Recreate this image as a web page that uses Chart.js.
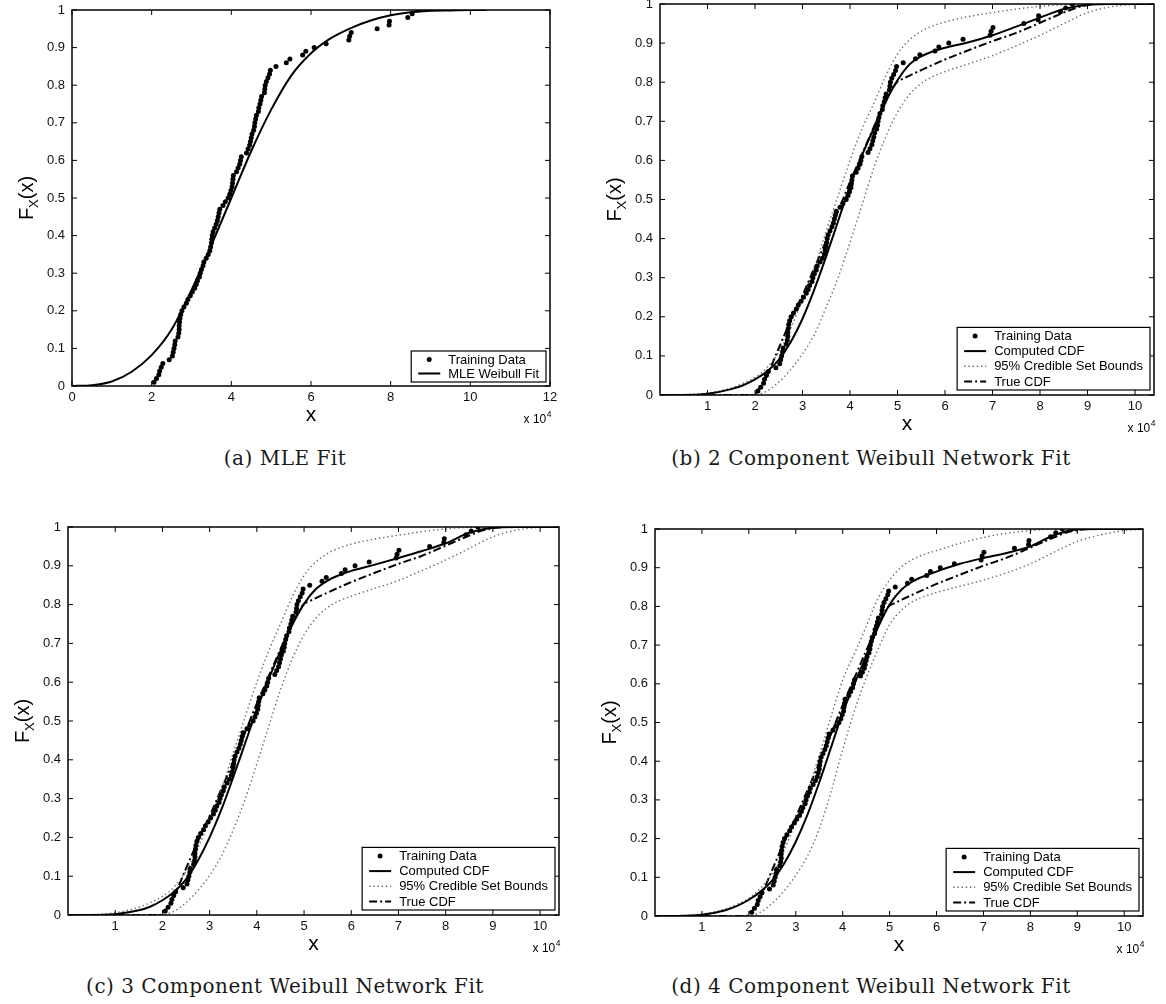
<!DOCTYPE html>
<html>
<head>
<meta charset="utf-8">
<title>Weibull network CDF fits</title>
<script src="https://cdn.jsdelivr.net/npm/chart.js@4.4.1/dist/chart.umd.min.js"></script>
<style>
  body { margin: 0; background: #fff; width: 1166px; height: 1004px; position: relative; overflow: hidden; }
  canvas { position: absolute; }
  .caption {
    position: absolute; transform: translate(-50%, -50%); white-space: nowrap;
    font-family: "DejaVu Serif", serif; font-size: 20px; letter-spacing: 0.5px; color: #1a1a1a;
  }
</style>
</head>
<body>
<canvas id="panelA" width="583" height="440" style="left:0px;top:0px"></canvas>
<canvas id="panelB" width="583" height="440" style="left:583px;top:0px"></canvas>
<canvas id="panelC" width="583" height="480" style="left:0px;top:480px"></canvas>
<canvas id="panelD" width="583" height="480" style="left:583px;top:480px"></canvas>
<div class="caption" style="left:285px;top:458px">(a) MLE Fit</div>
<div class="caption" style="left:871px;top:458px">(b) 2 Component Weibull Network Fit</div>
<div class="caption" style="left:285px;top:986px">(c) 3 Component Weibull Network Fit</div>
<div class="caption" style="left:871px;top:986px">(d) 4 Component Weibull Network Fit</div>

<script>
// training sample, x in units of 1e4
const trainX = [
  2.06, 2.12, 2.18, 2.20, 2.24, 2.28, 2.44, 2.52, 2.54, 2.56,
  2.58, 2.59, 2.66, 2.68, 2.69, 2.69, 2.70, 2.71, 2.73, 2.76,
  2.81, 2.87, 2.91, 2.97, 3.02, 3.08, 3.12, 3.15, 3.20, 3.22,
  3.25, 3.29, 3.31, 3.37, 3.42, 3.46, 3.48, 3.50, 3.51, 3.52,
  3.54, 3.58, 3.62, 3.65, 3.67, 3.69, 3.71, 3.79, 3.85, 3.92,
  3.96, 3.99, 4.02, 4.03, 4.04, 4.05, 4.13, 4.17, 4.21, 4.23,
  4.25, 4.38, 4.42, 4.46, 4.48, 4.50, 4.52, 4.56, 4.58, 4.59,
  4.61, 4.63, 4.68, 4.69, 4.72, 4.74, 4.76, 4.83, 4.84, 4.85,
  4.88, 4.92, 4.96, 4.98, 5.12, 5.38, 5.47, 5.79, 5.87, 6.08,
  6.38, 6.95, 6.97, 7.01, 7.66, 7.96, 7.97, 8.43, 8.54, 8.68
];
const trainF = [
  0.01, 0.02, 0.03, 0.04, 0.05, 0.06, 0.07, 0.08, 0.09, 0.10,
  0.11, 0.12, 0.13, 0.14, 0.15, 0.16, 0.17, 0.18, 0.19, 0.20,
  0.21, 0.22, 0.23, 0.24, 0.25, 0.26, 0.27, 0.28, 0.29, 0.30,
  0.31, 0.32, 0.33, 0.34, 0.35, 0.36, 0.37, 0.38, 0.39, 0.40,
  0.41, 0.42, 0.43, 0.44, 0.45, 0.46, 0.47, 0.48, 0.49, 0.50,
  0.51, 0.52, 0.53, 0.54, 0.55, 0.56, 0.57, 0.58, 0.59, 0.60,
  0.61, 0.62, 0.63, 0.64, 0.65, 0.66, 0.67, 0.68, 0.69, 0.70,
  0.71, 0.72, 0.73, 0.74, 0.75, 0.76, 0.77, 0.78, 0.79, 0.80,
  0.81, 0.82, 0.83, 0.84, 0.85, 0.86, 0.87, 0.88, 0.89, 0.90,
  0.91, 0.92, 0.93, 0.94, 0.95, 0.96, 0.97, 0.98, 0.99, 1.00
];

// MLE Weibull fit
const mleX = [0, 0.5, 1, 1.5, 2, 2.5, 3, 3.5, 4, 4.5, 5, 5.5, 6, 6.5, 7, 7.5, 8, 8.5, 9, 9.5, 10, 10.4];
const mleF = [0, 0.002, 0.012, 0.038, 0.082, 0.15, 0.255, 0.375, 0.5, 0.625, 0.735, 0.825, 0.885, 0.925,
              0.952, 0.972, 0.986, 0.994, 0.998, 0.999, 1, 1];

// x grid for the network curves
const netX = [0, 0.5, 1, 1.5, 1.75, 2, 2.25, 2.5, 2.75, 3, 3.25, 3.5, 3.75, 4, 4.25, 4.5, 4.75,
              5, 5.25, 5.5, 5.75, 6, 6.5, 7, 7.5, 8, 8.5, 9, 9.5, 10, 10.4];

const computedB = [0, 0, 0.003, 0.015, 0.025, 0.04, 0.06, 0.09, 0.135, 0.195, 0.27, 0.355, 0.445, 0.535, 0.612, 0.682, 0.75,
                   0.805, 0.845, 0.866, 0.879, 0.888, 0.902, 0.92, 0.942, 0.965, 0.987, 0.998, 1, 1, 1];
const upperB    = [0, 0.001, 0.005, 0.018, 0.03, 0.045, 0.07, 0.11, 0.17, 0.245, 0.325, 0.42, 0.51, 0.6, 0.68, 0.745, 0.815,
                   0.872, 0.908, 0.93, 0.944, 0.954, 0.968, 0.978, 0.987, 0.994, 0.998, 1, 1, 1, 1];
const lowerB    = [0, 0, 0, 0, 0, 0.001, 0.01, 0.033, 0.065, 0.105, 0.155, 0.225, 0.3, 0.39, 0.485, 0.58, 0.66,
                   0.723, 0.768, 0.797, 0.815, 0.827, 0.847, 0.868, 0.893, 0.92, 0.95, 0.978, 0.993, 0.999, 1];

const computedC = [0, 0, 0.002, 0.012, 0.022, 0.038, 0.06, 0.092, 0.14, 0.2, 0.272, 0.355, 0.442, 0.53, 0.608, 0.68, 0.748,
                   0.802, 0.84, 0.862, 0.876, 0.887, 0.903, 0.92, 0.938, 0.958, 0.985, 0.998, 1, 1, 1];
const upperC    = [0, 0.001, 0.006, 0.02, 0.032, 0.048, 0.073, 0.113, 0.172, 0.245, 0.325, 0.418, 0.51, 0.6, 0.68, 0.75, 0.82,
                   0.875, 0.91, 0.932, 0.946, 0.956, 0.969, 0.979, 0.988, 0.995, 0.999, 1, 1, 1, 1];
const lowerC    = [0, 0, 0, 0, 0, 0.001, 0.01, 0.032, 0.063, 0.102, 0.152, 0.22, 0.298, 0.39, 0.485, 0.58, 0.66,
                   0.722, 0.765, 0.793, 0.81, 0.822, 0.842, 0.862, 0.888, 0.915, 0.945, 0.975, 0.992, 0.999, 1];

const computedD = [0, 0, 0.003, 0.015, 0.026, 0.042, 0.063, 0.092, 0.135, 0.192, 0.262, 0.345, 0.435, 0.525, 0.6, 0.672, 0.745,
                   0.805, 0.843, 0.865, 0.879, 0.89, 0.91, 0.925, 0.938, 0.955, 0.984, 0.999, 1, 1, 1];
const upperD    = [0, 0.001, 0.005, 0.018, 0.03, 0.046, 0.072, 0.11, 0.17, 0.243, 0.322, 0.415, 0.515, 0.61, 0.678, 0.748, 0.82,
                   0.868, 0.902, 0.922, 0.935, 0.944, 0.963, 0.978, 0.989, 0.996, 1, 1, 1, 1, 1];
const lowerD    = [0, 0, 0, 0, 0, 0.001, 0.01, 0.033, 0.065, 0.105, 0.155, 0.225, 0.32, 0.43, 0.53, 0.615, 0.688,
                   0.753, 0.79, 0.813, 0.826, 0.836, 0.852, 0.868, 0.887, 0.91, 0.94, 0.968, 0.985, 0.996, 0.999];

// true CDF of the generating mixture
const trueX = [0, 1.9, 2.0, 2.25, 2.5, 2.75, 3.0, 3.25, 3.5, 3.75, 4.0, 4.25, 4.5, 4.75, 4.9, 5.0, 5.1,
               5.5, 6.0, 6.5, 7.0, 7.5, 8.0, 8.5, 8.75, 9.0, 9.25, 10.4];
const trueF = [0, 0, 0.003, 0.05, 0.12, 0.19, 0.255, 0.325, 0.395, 0.47, 0.545, 0.615, 0.685, 0.75, 0.785, 0.802, 0.808,
               0.831, 0.858, 0.882, 0.905, 0.926, 0.952, 0.978, 0.99, 0.997, 1, 1];

const yTicks = [0, 0.1, 0.2, 0.3, 0.4, 0.5, 0.6, 0.7, 0.8, 0.9, 1];
const yTickLabels = ['0', '0.1', '0.2', '0.3', '0.4', '0.5', '0.6', '0.7', '0.8', '0.9', '1'];
const xTicksMle = [0, 2, 4, 6, 8, 10, 12];
const xTicksNet = [1, 2, 3, 4, 5, 6, 7, 8, 9, 10];

const FONT = '"Liberation Sans", Arial, Helvetica, sans-serif';

function pts(xs, ys) {
  return xs.map((x, i) => ({ x: x, y: ys[i] }));
}

function dataSet() {
  return { label: 'Training Data', data: pts(trainX, trainF), showLine: false,
           pointRadius: 2.5, pointBackgroundColor: '#000', pointBorderWidth: 0 };
}
function curve(label, xs, ys, style) {
  return Object.assign({ label: label, data: pts(xs, ys), showLine: true, pointRadius: 0,
                         borderColor: '#000', borderWidth: 2, cubicInterpolationMode: 'monotone' }, style);
}
const dotted = { borderColor: '#6a6a6a', borderWidth: 1.4, borderDash: [1.4, 2.8] };
const dashDot = { borderWidth: 2, borderDash: [8, 3, 2, 3] };

function networkSets(comp, up, low) {
  return [
    dataSet(),
    curve('Computed CDF', netX, comp, {}),
    curve('95% Credible Set Bounds', netX, up, dotted),
    curve('95% Credible Set Bounds', netX, low, Object.assign({ noLegend: true }, dotted)),
    curve('True CDF', trueX, trueF, dashDot)
  ];
}

// box, inward ticks, legend and axis titles in the MATLAB figure style
const matlabAxes = {
  id: 'matlabAxes',
  afterDraw(chart, args, opts) {
    const ctx = chart.ctx;
    const a = chart.chartArea;
    const xs = chart.scales.x, ys = chart.scales.y;
    ctx.save();

    ctx.strokeStyle = '#000';
    ctx.lineWidth = 1;
    ctx.beginPath();
    xs.ticks.forEach(t => {
      const p = xs.getPixelForValue(t.value);
      ctx.moveTo(p, a.bottom); ctx.lineTo(p, a.bottom - 5);
      ctx.moveTo(p, a.top); ctx.lineTo(p, a.top + 5);
    });
    ys.ticks.forEach(t => {
      const p = ys.getPixelForValue(t.value);
      ctx.moveTo(a.left, p); ctx.lineTo(a.left + 5, p);
      ctx.moveTo(a.right, p); ctx.lineTo(a.right - 5, p);
    });
    ctx.stroke();
    ctx.lineWidth = 1.5;
    ctx.strokeRect(a.left, a.top, a.right - a.left, a.bottom - a.top);

    // legend in the lower right corner
    const entries = chart.data.datasets.filter(d => !d.noLegend);
    ctx.font = '13px ' + FONT;
    const textW = Math.max(...entries.map(d => ctx.measureText(d.label).width));
    const rowH = opts.rowH;
    const boxW = 7 + 22 + 8 + textW + 7;
    const boxH = 17 + (entries.length - 1) * rowH;
    const bx = a.right - 4 - boxW, by = a.bottom - opts.legendGap - boxH;
    ctx.fillStyle = '#fff';
    ctx.fillRect(bx, by, boxW, boxH);
    ctx.lineWidth = 1.2;
    ctx.strokeStyle = '#000';
    ctx.strokeRect(bx, by, boxW, boxH);
    entries.forEach((d, i) => {
      const cy = by + 8.5 + i * rowH;
      const lx = bx + 7;
      if (d.showLine === false) {
        ctx.fillStyle = '#000';
        ctx.beginPath();
        ctx.arc(lx + 11, cy, 2.5, 0, Math.PI * 2);
        ctx.fill();
      } else {
        ctx.save();
        ctx.strokeStyle = d.borderColor;
        ctx.lineWidth = d.borderWidth;
        ctx.setLineDash(d.borderDash || []);
        ctx.beginPath();
        ctx.moveTo(lx, cy); ctx.lineTo(lx + 22, cy);
        ctx.stroke();
        ctx.restore();
      }
      ctx.fillStyle = '#000';
      ctx.textAlign = 'left';
      ctx.textBaseline = 'middle';
      ctx.fillText(d.label, lx + 30, cy + 0.5);
    });

    // x label and exponent
    ctx.fillStyle = '#000';
    ctx.textBaseline = 'alphabetic';
    ctx.textAlign = 'center';
    ctx.font = '21px ' + FONT;
    ctx.fillText('x', (a.left + a.right) / 2, a.bottom + 35);

    ctx.textAlign = 'left';
    ctx.font = '8.5px ' + FONT;
    const supW = ctx.measureText('4').width;
    ctx.font = '12px ' + FONT;
    const baseW = ctx.measureText('x 10').width;
    const ex = a.right + 1 - supW - baseW;
    ctx.fillText('x 10', ex, a.bottom + 37);
    ctx.font = '8.5px ' + FONT;
    ctx.fillText('4', ex + baseW + 0.5, a.bottom + 31);

    // y label F_X(x), rotated
    ctx.translate(a.left - 46, (a.top + a.bottom) / 2);
    ctx.rotate(-Math.PI / 2);
    ctx.font = '20px ' + FONT;
    const wF = ctx.measureText('F').width, wP = ctx.measureText('(x)').width;
    ctx.font = '13px ' + FONT;
    const wX = ctx.measureText('X').width;
    let tx = -(wF + wX + wP) / 2;
    ctx.font = '20px ' + FONT;
    ctx.fillText('F', tx, 7);
    ctx.font = '13px ' + FONT;
    ctx.fillText('X', tx + wF, 12);
    ctx.font = '20px ' + FONT;
    ctx.fillText('(x)', tx + wF + wX, 7);

    ctx.restore();
  }
};

// area: chart box in page pixels [left, top, right, bottom]
function makePanel(id, canvasLeft, canvasTop, area, datasets, xMax, xTicks, rowH, legendGap) {
  const canvas = document.getElementById(id);
  const yWidth = area[0] - canvasLeft;
  const xHeight = 30;
  return new Chart(canvas, {
    type: 'scatter',
    data: { datasets: datasets },
    options: {
      responsive: false,
      animation: false,
      devicePixelRatio: 1,
      events: [],
      layout: {
        padding: {
          left: 0,
          top: area[1] - canvasTop,
          right: canvas.width - (area[2] - canvasLeft),
          bottom: canvas.height - (area[3] - canvasTop) - xHeight
        }
      },
      plugins: {
        legend: { display: false },
        tooltip: { enabled: false },
        matlabAxes: { rowH: rowH, legendGap: legendGap }
      },
      scales: {
        x: {
          type: 'linear', min: 0, max: xMax,
          grid: { display: false, drawTicks: false }, border: { display: false },
          afterBuildTicks: s => { s.ticks = xTicks.map(v => ({ value: v })); },
          afterFit: s => { s.height = xHeight; s.paddingLeft = 0; s.paddingRight = 0; },
          ticks: { padding: 4, maxRotation: 0, autoSkip: false, color: '#111',
                   font: { family: FONT, size: 13 }, callback: v => String(v) }
        },
        y: {
          type: 'linear', min: 0, max: 1,
          grid: { display: false, drawTicks: false }, border: { display: false },
          afterBuildTicks: s => { s.ticks = yTicks.map(v => ({ value: v })); },
          afterFit: s => { s.width = yWidth; s.paddingTop = 0; s.paddingBottom = 0; },
          ticks: { padding: 7, autoSkip: false, color: '#111',
                   font: { family: FONT, size: 13 },
                   callback: v => yTickLabels[yTicks.indexOf(Math.round(v * 10) / 10)] }
        }
      }
    },
    plugins: [matlabAxes]
  });
}

makePanel('panelA', 0, 0, [72, 10, 550, 386],
  [dataSet(), curve('MLE Weibull Fit', mleX, mleF, {})], 12, xTicksMle, 14, 4);
makePanel('panelB', 583, 0, [660, 4, 1154, 395],
  networkSets(computedB, upperB, lowerB), 10.4, xTicksNet, 15.2, 5);
makePanel('panelC', 0, 480, [68, 527, 559, 915],
  networkSets(computedC, upperC, lowerC), 10.4, xTicksNet, 15.2, 5);
makePanel('panelD', 583, 480, [655, 529, 1143, 916],
  networkSets(computedD, upperD, lowerD), 10.4, xTicksNet, 15.2, 5);
</script>
</body>
</html>
